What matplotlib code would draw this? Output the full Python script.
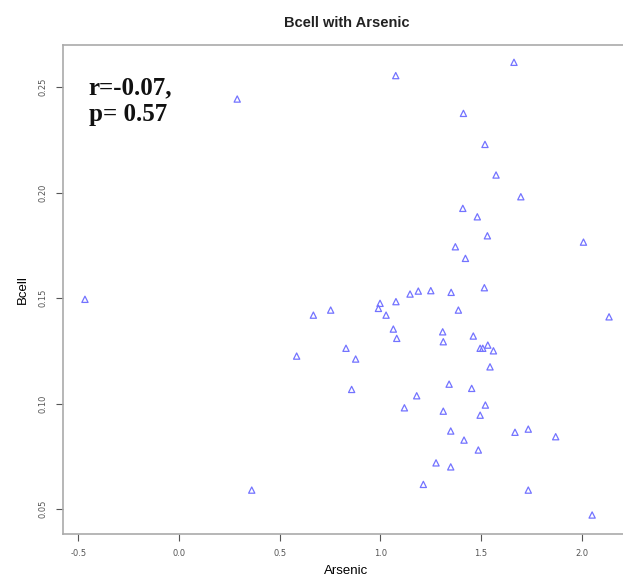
import matplotlib.pyplot as plt

# Arsenic (x) and Bcell (y) values
arsenic = [-0.467, 0.289, 0.667, 0.584, 0.361, 1.663, 1.076, 1.412, 1.519, 1.574,
           1.697, 1.409, 1.481, 1.531, 2.008, 1.372, 1.422, 1.516, 1.351, 1.250,
           1.188, 1.147, 1.077, 0.998, 0.990, 0.753, 1.028, 1.387, 1.064, 1.081,
           1.309, 1.312, 1.461, 1.495, 1.508, 1.533, 1.561, 1.544, 0.829, 0.877,
           0.857, 1.180, 1.341, 1.453, 1.119, 1.312, 1.521, 1.495, 1.349, 1.415,
           1.486, 1.668, 1.734, 1.870, 1.276, 1.349, 1.213, 1.734, 2.051, 2.135]
bcell = [0.1494, 0.2443, 0.1419, 0.1225, 0.0590, 0.2617, 0.2554, 0.2375, 0.2228, 0.2083,
         0.1980, 0.1925, 0.1885, 0.1795, 0.1765, 0.1743, 0.1688, 0.1549, 0.1527, 0.1535,
         0.1533, 0.1519, 0.1483, 0.1475, 0.1451, 0.1443, 0.1419, 0.1443, 0.1353, 0.1309,
         0.1340, 0.1293, 0.1320, 0.1262, 0.1262, 0.1277, 0.1250, 0.1174, 0.1262, 0.1211,
         0.1067, 0.1037, 0.1092, 0.1072, 0.0980, 0.0964, 0.0993, 0.0945, 0.0870, 0.0827,
         0.0780, 0.0864, 0.0879, 0.0843, 0.0719, 0.0700, 0.0617, 0.0590, 0.0472, 0.1411]

xticks = [-0.5, 0.0, 0.5, 1.0, 1.5, 2.0]
yticks = [0.05, 0.10, 0.15, 0.20, 0.25]

W, H = 623, 583
fig = plt.figure(figsize=(W / 100, H / 100), dpi=100)
ax = fig.add_axes([63 / W, (H - 534) / H, (630 - 63) / W, (534 - 45) / H])

ax.scatter(arsenic, bcell, marker='^', s=20, facecolors='none',
           edgecolors='#7373ff', linewidths=0.9)

ax.set_xlim(-0.576, 2.239)
ax.set_ylim(0.0382, 0.2699)
ax.set_xticks(xticks)
ax.set_xticklabels([f"{t:.1f}" for t in xticks])
ax.set_yticks(yticks)
ax.set_yticklabels([f"{t:.2f}" for t in yticks], rotation=90, va='center')
ax.tick_params(labelsize=6, colors='#555555', length=5, width=0.8, pad=6)

for s in ax.spines.values():
    s.set_color('#aaaaaa')
    s.set_linewidth(1.2)

ax.set_title('Bcell with Arsenic', fontsize=10.5, fontweight='bold',
             family='Liberation Sans', color='#222222', pad=13)
ax.set_xlabel('Arsenic', fontsize=9.5, family='Liberation Sans', labelpad=5)
ax.set_ylabel('Bcell', fontsize=9.5, family='Liberation Sans', labelpad=7)

ax.text(0.045, 0.935, 'r=-0.07,\np= 0.57', transform=ax.transAxes,
        family='Liberation Serif', fontweight='bold', fontsize=18,
        va='top', ha='left', linespacing=1.2, color='#111111')

fig.savefig('out.png', dpi=100)
